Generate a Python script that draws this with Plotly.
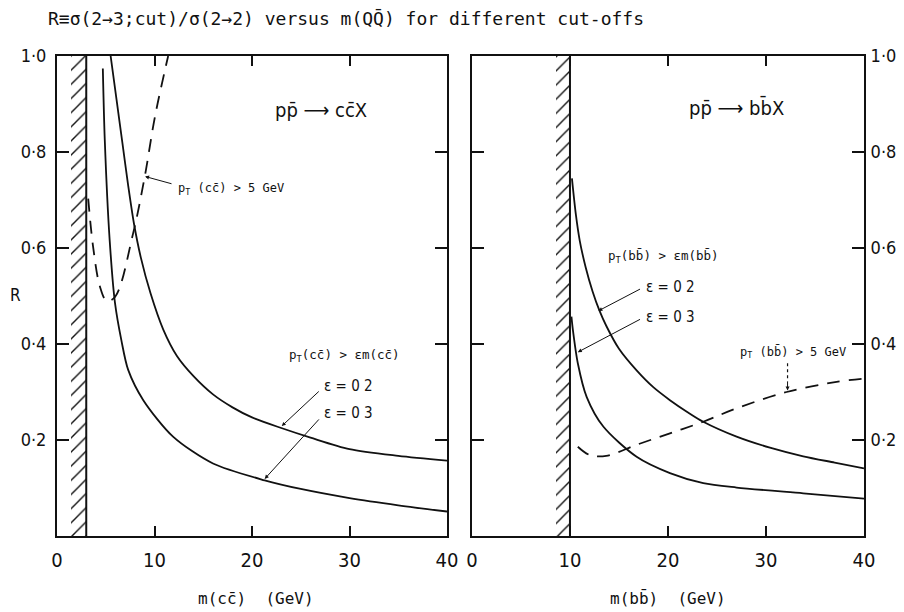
import numpy as np
import plotly.graph_objects as go

# ---------------- data ----------------
# left panel: p pbar -> c cbar X
cc_eps02_m = [5.5, 6.1, 6.7, 7.3, 7.9, 8.6, 9.6, 10.9, 12.3, 14.0, 16.0, 18.0, 20.0, 23.0, 26.0, 30.0, 35.0, 40.0]
cc_eps02_R = [1.00, 0.91, 0.82, 0.73, 0.65, 0.58, 0.505, 0.43, 0.375, 0.333, 0.295, 0.268, 0.247, 0.225, 0.205, 0.181, 0.167, 0.157]
cc_eps03_m = [4.7, 4.9, 5.4, 5.95, 6.6, 7.3, 8.85, 11.9, 16.0, 21.3, 25.0, 30.0, 35.0, 40.0]
cc_eps03_R = [0.974, 0.825, 0.617, 0.485, 0.408, 0.346, 0.283, 0.207, 0.151, 0.116, 0.098, 0.079, 0.064, 0.051]
cc_pt5_m = [3.2, 3.7, 4.4, 5.1, 5.95, 7.8, 9.0, 10.05, 11.4]
cc_pt5_R = [0.703, 0.603, 0.52, 0.49, 0.498, 0.63, 0.749, 0.874, 1.0]
cc_threshold = 3.0
cc_hatch_start = 1.4

# right panel: p pbar -> b bbar X
bb_eps02_m = [10.2, 10.6, 11.0, 11.6, 12.3, 13.0, 13.7, 15.0, 16.8, 18.5, 20.2, 22.0, 23.6, 27.0, 30.4, 33.8, 37.0, 40.0]
bb_eps02_R = [0.745, 0.67, 0.615, 0.56, 0.51, 0.47, 0.438, 0.39, 0.345, 0.31, 0.283, 0.258, 0.238, 0.207, 0.184, 0.166, 0.153, 0.141]
bb_eps03_m = [10.15, 10.3, 10.8, 11.7, 13.4, 16.8, 20.2, 23.6, 27.0, 33.8, 40.0]
bb_eps03_R = [0.457, 0.429, 0.36, 0.29, 0.228, 0.165, 0.131, 0.110, 0.101, 0.089, 0.078]
bb_pt5_m = [10.8, 12.0, 13.7, 16.8, 20.2, 23.6, 27.0, 32.1, 37.2, 40.0]
bb_pt5_R = [0.186, 0.169, 0.167, 0.19, 0.214, 0.238, 0.266, 0.30, 0.321, 0.328]
bb_threshold = 10.0
bb_hatch_start = 8.6

x_ticks = [0, 10, 20, 30, 40]
y_ticks = [0.2, 0.4, 0.6, 0.8, 1.0]
y_ticktext = ["0·2", "0·4", "0·6", "0·8", "1·0"]

MONO = "DejaVu Sans Mono, monospace"
COND = "DejaVu Sans Condensed, DejaVu Sans, sans-serif"
BLACK = "#111111"

fig = go.Figure()


def add_panel(xa, ya, hs, th, e2m, e2r, e3m, e3r, pm, pr):
    # hatched kinematically forbidden region
    fig.add_trace(go.Bar(
        x=[(hs + th) / 2], y=[1.0], width=[th - hs], base=[0],
        marker=dict(color="white", line=dict(width=0),
                    pattern=dict(shape="/", fgcolor=BLACK, bgcolor="white",
                                 size=10, solidity=0.14)),
        xaxis=xa, yaxis=ya, showlegend=False, hoverinfo="skip"))
    fig.add_trace(go.Scatter(x=[th, th], y=[0, 1], mode="lines",
                             line=dict(color=BLACK, width=2),
                             xaxis=xa, yaxis=ya, showlegend=False))
    for m, r in ((e2m, e2r), (e3m, e3r)):
        fig.add_trace(go.Scatter(x=m, y=r, mode="lines", line_shape="spline",
                                 line=dict(color=BLACK, width=1.8, smoothing=0.8),
                                 xaxis=xa, yaxis=ya, showlegend=False))
    fig.add_trace(go.Scatter(x=pm, y=pr, mode="lines", line_shape="spline",
                             line=dict(color=BLACK, width=1.8, dash="13px,9px"),
                             xaxis=xa, yaxis=ya, showlegend=False))


add_panel("x", "y", cc_hatch_start, cc_threshold, cc_eps02_m, cc_eps02_R,
          cc_eps03_m, cc_eps03_R, cc_pt5_m, cc_pt5_R)
add_panel("x2", "y2", bb_hatch_start, bb_threshold, bb_eps02_m, bb_eps02_R,
          bb_eps03_m, bb_eps03_R, bb_pt5_m, bb_pt5_R)

axis_common = dict(range=[0, 40], tickvals=x_ticks, ticks="inside", ticklen=10,
                   tickwidth=1.5, tickcolor=BLACK, showline=True, linecolor=BLACK,
                   linewidth=2, mirror="ticks", showgrid=False, zeroline=False,
                   automargin=False, ticklabelstandoff=5,
                   tickfont=dict(family=COND, size=20, color=BLACK))
yaxis_common = dict(range=[0, 1], tickvals=y_ticks, ticktext=y_ticktext,
                    ticks="inside", ticklen=12, tickwidth=1.5, tickcolor=BLACK,
                    showline=True, linecolor=BLACK, linewidth=2, mirror="ticks",
                    showgrid=False, zeroline=False, automargin=False,
                    tickfont=dict(family=COND, size=18, color=BLACK))

fig.update_layout(
    template="none",
    width=904, height=612,
    margin=dict(l=57, r=40, t=56, b=76, autoexpand=False),
    paper_bgcolor="white", plot_bgcolor="white",
    bargap=0, showlegend=False,
    xaxis=dict(domain=[0.0, 0.4833], anchor="y", **axis_common),
    yaxis=dict(domain=[0.0, 1.0], anchor="x", side="left", ticklabelstandoff=5,
               **yaxis_common),
    xaxis2=dict(domain=[0.5142, 1.0], anchor="y2", **axis_common),
    yaxis2=dict(domain=[0.0, 1.0], anchor="x2", side="right", ticklabelstandoff=1,
                **yaxis_common),
)

ann = []


def text(x, y, s, xr, yr, size=14, xanchor="left", family=MONO):
    ann.append(dict(x=x, y=y, xref=xr, yref=yr, text=s, showarrow=False,
                    xanchor=xanchor, yanchor="middle",
                    font=dict(size=size, family=family, color=BLACK)))


def arrow(x0, y0, x1, y1, xr, yr):
    ann.append(dict(x=x1, y=y1, ax=x0, ay=y0, xref=xr, yref=yr, axref=xr, ayref=yr,
                    text="", showarrow=True, arrowhead=2, arrowsize=0.8,
                    arrowwidth=1.0, arrowcolor=BLACK, standoff=0))


# figure-level texts (paper coords relative to plot area)
text(-0.0136, 1.079, "R≡σ(2→3;cut)/σ(2→2) versus m(QQ̄) for different cut-offs",
     "paper", "paper", size=18)
text(0.2466, -0.13, "m(cc̄)  (GeV)", "paper", "paper", size=16, xanchor="center")
text(0.757, -0.13, "m(bb̄)  (GeV)", "paper", "paper", size=16, xanchor="center")
text(-0.052, 0.502, "R", "paper", "paper", size=17, xanchor="center", family=COND)

# left panel
text(27.1, 0.8875, "pp̄ ⟶ cc̄X", "x", "y", size=20, xanchor="center", family=COND)
text(12.2, 0.722, "p<sub>T</sub> (cc̄) > 5 GeV", "x", "y", size=12)
arrow(11.9, 0.733, 9.03, 0.749, "x", "y")
text(23.6, 0.377, "p<sub>T</sub>(cc̄) > εm(cc̄)", "x", "y", size=12.5)
text(27.2, 0.3125, "ε = 0 2", "x", "y", size=15, family=COND)
arrow(27.0, 0.304, 23.05, 0.229, "x", "y")
text(27.2, 0.256, "ε = 0 3", "x", "y", size=15, family=COND)
arrow(27.0, 0.246, 21.3, 0.119, "x", "y")

# right panel
text(27.0, 0.892, "pp̄ ⟶ bb̄X", "x2", "y2", size=20, xanchor="center", family=COND)
text(13.7, 0.583, "p<sub>T</sub>(bb̄) > εm(bb̄)", "x2", "y2", size=12.5)
text(17.6, 0.519, "ε = 0 2", "x2", "y2", size=15, family=COND)
arrow(17.3, 0.516, 12.9, 0.469, "x2", "y2")
text(17.6, 0.456, "ε = 0 3", "x2", "y2", size=15, family=COND)
arrow(17.3, 0.453, 10.8, 0.383, "x2", "y2")
text(27.1, 0.383, "p<sub>T</sub> (bb̄) > 5 GeV", "x2", "y2", size=12)
arrow(32.2, 0.325, 32.2, 0.303, "x2", "y2")

fig.add_shape(type="line", x0=32.2, y0=0.36, x1=32.2, y1=0.322, xref="x2", yref="y2",
              line=dict(color=BLACK, width=1.2, dash="dot"))

fig.update_layout(annotations=ann)
fig.write_html("out.html")
